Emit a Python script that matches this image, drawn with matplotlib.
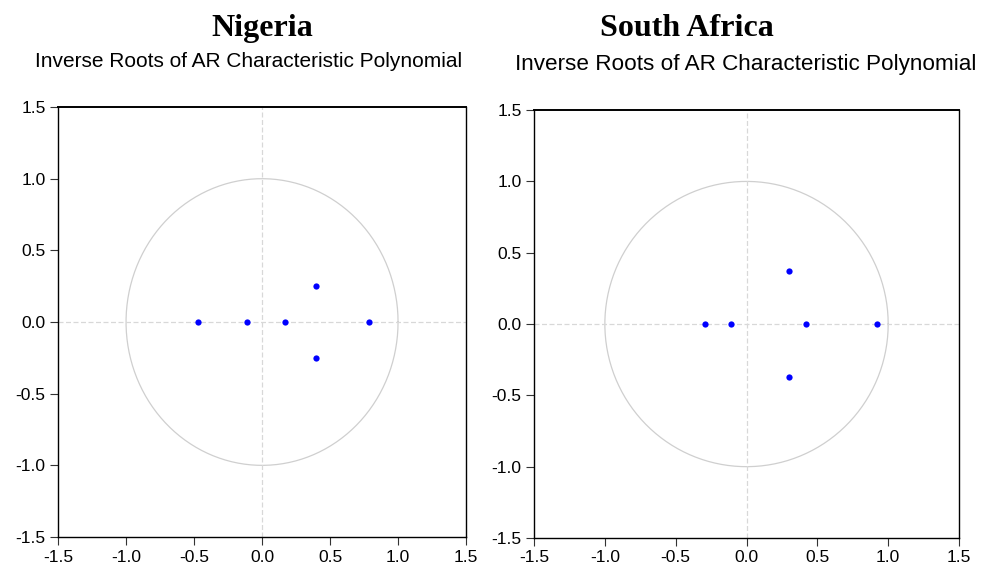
#!/usr/bin/env python3

import numpy as np
from matplotlib import pyplot as plt

# inverse roots
ng_re = [-0.47, -0.11, 0.17, 0.40, 0.40, 0.79]
ng_im = [0.0, 0.0, 0.0, 0.25, -0.25, 0.0]
za_re = [-0.29, -0.11, 0.30, 0.30, 0.42, 0.92]
za_im = [0.0, 0.0, 0.37, -0.37, 0.0, 0.0]

ticks = [-1.5, -1.0, -0.5, 0.0, 0.5, 1.0, 1.5]
tick_labels = ["-1.5", "-1.0", "-0.5", "0.0", "0.5", "1.0", "1.5"]

sans = ["Liberation Sans", "DejaVu Sans"]
serif = ["Liberation Serif", "DejaVu Serif"]

fig = plt.figure(figsize=(9.82, 5.69), dpi=100)

def root_plot(rect, re, im):
    ax = fig.add_axes(rect)
    t = np.linspace(0, 2 * np.pi, 400)
    ax.plot(np.cos(t), np.sin(t), color="#cfcfcf", lw=0.9, zorder=1)
    ax.axhline(0, color="#d8d8d8", lw=0.9, ls=(0, (4, 2)), zorder=1)
    ax.axvline(0, color="#d8d8d8", lw=0.9, ls=(0, (4, 2)), zorder=1)
    ax.plot(re, im, "o", color="#0000ff", ms=4.5, mec="none", zorder=3)
    ax.set_xlim(-1.5, 1.5)
    ax.set_ylim(-1.5, 1.5)
    ax.set_xticks(ticks)
    ax.set_yticks(ticks)
    ax.set_xticklabels(tick_labels, family=sans, fontsize=12.5)
    ax.set_yticklabels(tick_labels, family=sans, fontsize=12.5)
    ax.tick_params(direction="out", length=5.5, width=0.8, color="#333333",
                   top=False, right=False, pad=3.5)
    for s in ax.spines.values():
        s.set_linewidth(1.0)
        s.set_color("black")
    ax.spines["top"].set_linewidth(1.4)
    return ax

root_plot([0.0591, 0.0562, 0.4155, 0.7557], ng_re, ng_im)
root_plot([0.5438, 0.0545, 0.4328, 0.7520], za_re, za_im)

fig.text(262 / 982, 1 - 36 / 569, "Nigeria", family=serif, weight="bold",
         fontsize=23, ha="center", va="baseline")
fig.text(687 / 982, 1 - 36 / 569, "South Africa", family=serif, weight="bold",
         fontsize=23, ha="center", va="baseline")
fig.text(249 / 982, 1 - 67 / 569, "Inverse Roots of AR Characteristic Polynomial",
         family=sans, fontsize=15, ha="center", va="baseline")
fig.text(746 / 982, 1 - 70 / 569, "Inverse Roots of AR Characteristic Polynomial",
         family=sans, fontsize=16.2, ha="center", va="baseline")

fig.savefig("out.png", dpi=100)
